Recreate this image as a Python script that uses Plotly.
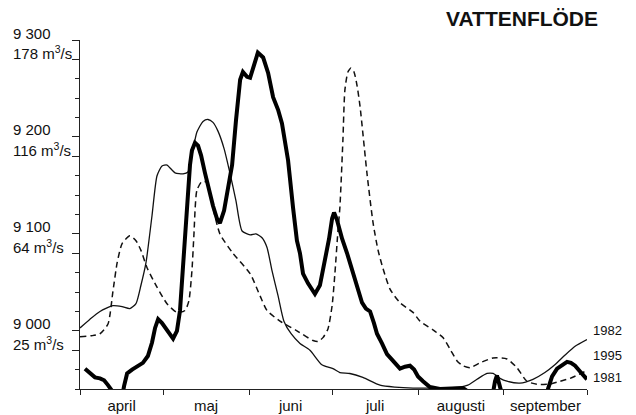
import pandas as pd
import plotly.graph_objects as go

# ---- data (days after 1 April, water level scale) ----
base = pd.Timestamp("2000-04-01")

days_1982 = [0, 3.6, 7.2, 11.9, 15.2, 18.0, 20.2, 22.0, 23.8, 26.0, 27.8, 29.6, 31.4, 34.3, 37.2, 39.0,
             40.4, 42.2, 44.4, 46.2, 48.0, 49.8, 52.0, 54.1, 56.3, 58.5, 61.4, 63.5, 65.7, 67.5, 69.3,
             71.5, 73.6, 76.2, 79.4, 83.0, 87.3, 91.3, 93.8, 97.4, 102.1, 108.3, 113.7, 120.2, 129.9,
             137.2, 140.0, 143.3, 146.9, 149.1, 151.6, 154.1, 158.8, 163.5, 167.8, 171.4, 175.1,
             178.7, 183.0]
level_1982 = [9003, 9012, 9020, 9026, 9025, 9023, 9028, 9047, 9070, 9119, 9160, 9170, 9171, 9163, 9162,
              9164, 9181, 9205, 9216, 9218, 9215, 9206, 9188, 9163, 9134, 9103, 9099, 9100, 9096, 9086,
              9062, 9036, 9010, 8997, 8987, 8980, 8965, 8961, 8957, 8956, 8952, 8944, 8942, 8941, 8941,
              8942, 8944, 8950, 8956, 8956, 8951, 8948, 8946, 8950, 8957, 8965, 8975, 8984, 8991]

days_1981 = [0, 4.3, 7.2, 10.1, 11.9, 13.4, 15.2, 18.0, 20.2, 22.0, 24.2, 27.8, 31.4, 35.0, 37.9, 39.3,
             40.4, 41.1, 42.2, 44.0, 45.8, 48.0, 50.5, 55.2, 61.4, 65.0, 67.5, 72.2, 78.3, 84.1, 85.9,
             87.7, 89.5, 91.0, 92.0, 93.1, 93.8, 94.9, 95.6, 96.7, 97.8, 98.9, 100.0, 101.1, 103.6,
             105.8, 107.6, 109.4, 111.9, 115.5, 120.2, 122.7, 127.4, 131.0, 133.6, 136.1, 138.2, 140.8,
             144.4, 149.1, 154.1, 157.7, 161.3, 164.9, 169.6, 173.3, 176.9, 183.0]
level_1981 = [8994, 8995, 8997, 9007, 9041, 9070, 9090, 9098, 9093, 9083, 9065, 9045, 9028, 9019, 9021,
              9031, 9062, 9098, 9145, 9154, 9153, 9127, 9100, 9080, 9059, 9036, 9021, 9010, 9000, 8990,
              8989, 8993, 9002, 9026, 9059, 9103, 9127, 9197, 9248, 9267, 9271, 9267, 9253, 9231, 9162,
              9111, 9083, 9064, 9043, 9029, 9019, 9010, 9001, 8993, 8981, 8969, 8964, 8962, 8967, 8972,
              8971, 8962, 8948, 8945, 8945, 8948, 8951, 8959]

days_1995 = [1.8, 3.6, 5.4, 7.2, 8.7, 10.1, 11.6, 12.6, 14.8, 15.9, 17.0, 18.8, 20.6, 22.7, 24.5, 26.0,
             27.1, 28.2, 29.6, 31.4, 33.6, 35.0, 36.1, 37.2, 38.3, 39.0, 39.7, 40.4, 41.5, 42.6, 43.7,
             45.1, 46.6, 48.0, 49.4, 50.5, 52.0, 53.4, 54.9, 56.3, 57.8, 58.8, 60.3, 61.4, 62.4, 64.2,
             66.1, 67.9, 69.7, 71.5, 72.9, 74.0, 75.1, 76.9, 78.3, 79.4, 80.5, 82.3, 84.8, 86.6, 87.7,
             88.8, 89.9, 91.0, 91.7, 92.8, 94.6, 96.4, 98.2, 100.0, 101.8, 103.2, 104.7, 106.1, 107.2,
             109.0, 110.8, 113.0, 115.5, 117.3, 119.1, 120.6, 122.0, 123.8, 126.3, 129.9, 134.3, 138.2,
             140.8, 142.6, 148.4, 149.1, 149.8, 150.5, 151.2, 152.0, 152.7, 167.8, 168.9, 170.4, 172.2,
             174.0, 175.8, 177.2, 178.7, 180.5, 183.0]
level_1995 = [8961, 8956, 8952, 8951, 8949, 8944, 8938, 8925, 8925, 8943, 8956, 8960, 8963, 8967, 8974,
              8988, 9003, 9012, 9008, 9000, 8992, 9000, 9021, 9067, 9114, 9142, 9171, 9186, 9194, 9191,
              9181, 9163, 9145, 9129, 9116, 9111, 9124, 9145, 9171, 9217, 9259, 9267, 9262, 9261, 9271,
              9287, 9282, 9266, 9241, 9228, 9214, 9197, 9176, 9127, 9093, 9080, 9059, 9049, 9038, 9047,
              9062, 9078, 9095, 9116, 9122, 9114, 9095, 9080, 9064, 9047, 9029, 9023, 9020, 9008, 8997,
              8987, 8976, 8969, 8961, 8963, 8964, 8960, 8953, 8948, 8942, 8940, 8941, 8941, 8936, 8925,
              8925, 8938, 8948, 8954, 8948, 8938, 8925, 8925, 8940, 8953, 8961, 8964, 8968, 8967, 8964,
              8958, 8950]

month_starts = ["2000-04-01", "2000-05-01", "2000-06-01", "2000-07-01", "2000-08-01", "2000-09-01", "2000-10-01"]
month_mids = ["2000-04-16", "2000-05-16 12:00", "2000-06-16", "2000-07-16 12:00", "2000-08-16 12:00", "2000-09-16"]
month_names = ["april", "maj", "juni", "juli", "augusti", "september"]

y_labels = [(9300, "9 300"), (9280, "178 m<sup>3</sup>/s"), (9200, "9 200"), (9180, "116 m<sup>3</sup>/s"),
            (9100, "9 100"), (9080, "64 m<sup>3</sup>/s"), (9000, "9 000"), (8980, "25 m<sup>3</sup>/s")]
y_minor = list(range(8940, 9301, 20))

series_labels = [("1982", 9000), ("1995", 8975), ("1981", 8952)]


def to_dates(days):
    return [base + pd.Timedelta(days=d) for d in days]


FONT = "Liberation Sans, Arial, Helvetica, sans-serif"

fig = go.Figure()
fig.add_trace(go.Scatter(x=to_dates(days_1981), y=level_1981, mode="lines",
                         line=dict(color="#111", width=1.5, dash="6px,4px", shape="spline", smoothing=0.6)))
fig.add_trace(go.Scatter(x=to_dates(days_1982), y=level_1982, mode="lines",
                         line=dict(color="#111", width=1.3, shape="spline", smoothing=0.6)))
fig.add_trace(go.Scatter(x=to_dates(days_1995), y=level_1995, mode="lines",
                         line=dict(color="#000", width=4, shape="linear")))

# page has an 8px body margin: figure is 628x407 so it fits the 636x415 window
fig.update_layout(
    width=628, height=407,
    margin=dict(l=72, r=49, t=32, b=26, autoexpand=False),
    paper_bgcolor="white", plot_bgcolor="white",
    showlegend=False,
    font=dict(family=FONT, size=15, color="#111"),
    xaxis=dict(
        type="date", range=["2000-04-01", "2000-10-01"], automargin=False,
        showgrid=False, zeroline=False,
        showline=True, linecolor="#222", linewidth=1,
        tickmode="array", tickvals=month_mids, ticktext=month_names,
        ticks="outside", ticklen=3, tickcolor="rgba(0,0,0,0)",
        tickfont=dict(family=FONT, size=15, color="#111"),
        minor=dict(tickmode="array", tickvals=month_starts, ticks="outside", ticklen=5,
                   tickcolor="#222", tickwidth=1, showgrid=False),
    ),
    yaxis=dict(
        range=[8940, 9300], automargin=False, showgrid=False, zeroline=False,
        showline=True, linecolor="#222", linewidth=1,
        tickmode="array", tickvals=[v for v, _ in y_labels],
        ticks="outside", ticklen=7, tickcolor="#222", showticklabels=False,
        minor=dict(tickmode="array", tickvals=y_minor, ticks="outside", ticklen=4,
                   tickcolor="#222", showgrid=False),
    ),
)

for v, txt in y_labels:
    fig.add_annotation(x=-0.136, xref="paper", y=v, yref="y", text=txt, showarrow=False,
                       xanchor="left", yanchor="middle", yshift=7,
                       font=dict(family=FONT, size=15, color="#111"))

for txt, v in series_labels:
    fig.add_annotation(x=1, xref="paper", y=v, yref="y", text=txt, showarrow=False,
                       xanchor="left", yanchor="middle", xshift=4,
                       font=dict(family=FONT, size=13, color="#111"))

fig.add_annotation(x=(522 - 80) / 507, xref="paper", y=1, yref="paper", text="<b>VATTENFLÖDE</b>",
                   showarrow=False, xanchor="center", yanchor="middle", yshift=22,
                   font=dict(family=FONT, size=21, color="#111"))

fig.write_html("out.html")
